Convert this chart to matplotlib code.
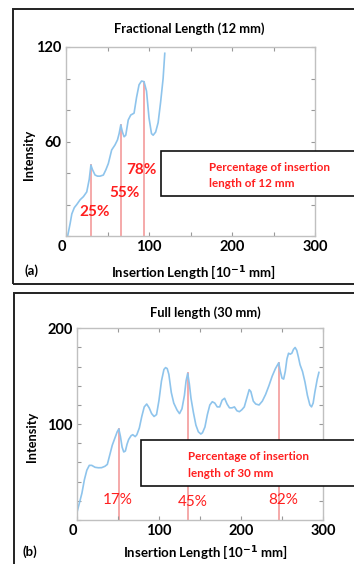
import matplotlib
matplotlib.use('Agg')
import matplotlib.pyplot as plt
from matplotlib.patches import Rectangle
import numpy as np

plt.rcParams['font.family'] = ['Lato', 'DejaVu Sans']

# (a) fractional insertion, 12 mm  (x in 10^-1 mm)
xa = [2, 5, 7, 10, 13, 17, 21, 25, 28, 30, 32, 35, 38, 41, 45, 48, 51, 55, 59, 62,
      64, 66, 68, 70, 72, 75, 78, 82, 85, 88, 91, 94, 97, 100, 103, 105, 108, 111,
      114, 117, 119]
ya = [0, 8, 14, 18, 20, 23, 25, 28, 36, 45, 42, 38.7, 38, 38, 38.7, 42, 46, 54.6,
      57.8, 61, 65, 70.5, 66, 63, 64, 73.7, 76.8, 78, 88, 96, 98.4, 98, 92, 75, 65,
      64, 66, 72, 85, 100, 116]
pct_a = [25, 55, 78]
len_a = 120

# (b) full insertion, 30 mm
xb = [0, 3, 6, 9, 12, 15, 18, 22, 26, 30, 34, 37, 40, 43, 46, 49, 51, 53, 55, 57,
      59, 61, 63, 66, 68, 71, 73, 76, 79, 82, 85, 88, 91, 94, 97, 100, 103, 106,
      108, 110, 112, 115, 118, 122, 125, 128, 131, 133, 135, 137, 139, 142, 145,
      148, 151, 153, 156, 159, 162, 165, 168, 171, 174, 177, 180, 183, 186, 189,
      192, 195, 198, 201, 204, 207, 210, 212, 215, 218, 222, 226, 230, 234, 238,
      242, 246, 248, 250, 252, 254, 256, 258, 260, 262, 264, 266, 268, 270, 272,
      275, 278, 281, 284, 286, 288, 290, 293, 295]
yb = [8, 18, 28, 42, 52, 57, 57, 55, 54.5, 54.6, 56, 58, 68, 78, 85, 92, 95, 87,
      76, 71, 72, 79, 84, 88, 89, 87, 89, 96, 108, 118, 121, 117, 111, 108, 110,
      125, 145, 157, 159, 158, 152, 133, 122, 114.7, 111, 116, 130, 145, 153, 142,
      127, 112, 99, 92, 89.7, 91, 97, 110, 120, 123.4, 122, 118, 118, 125, 127,
      121, 117, 117, 118, 114, 113, 115, 118, 127, 136, 134, 124, 121, 120, 124,
      131, 140, 150, 158, 164, 155, 148, 147, 155, 168, 174, 173, 174, 178, 180,
      177, 170, 162, 155, 144, 130, 120, 118, 122, 133, 147, 154]
pct_b = [17, 45, 82]
len_b = 300

xticks = [0, 50, 100, 150, 200, 250, 300]
xtick_labels = ['0', '', '100', '', '200', '', '300']

curve_c = '#8ec4ec'
mark_c = '#f4a3a3'
red = '#ff1f1f'

fig = plt.figure(figsize=(3.54, 5.64), dpi=100)

# panel frames
fig.add_artist(Rectangle((13/354, 1-284/564), 1.2, 275/564, transform=fig.transFigure,
                         fill=False, ec='#222222', lw=1.4))
fig.add_artist(Rectangle((14/354, -0.2), 1.2, 0.2+1-293/564, transform=fig.transFigure,
                         fill=False, ec='#222222', lw=1.4))


def panel(ax, x, y, pct, full, ymax, ylab, xlab, ylab_pos, title, tag, box, txt,
          lab_off, lab_w):
    ax.plot(x, y, color=curve_c, lw=1.2, solid_joinstyle='round', zorder=2)
    xs = [p/100*full for p in pct]
    hs = np.interp(xs, x, y)
    for xv, hv, p, (dx, ly) in zip(xs, hs, pct, lab_off):
        ax.plot([xv, xv], [0, hv], color=mark_c, lw=1.3, zorder=1)
        ax.text(xv+dx, ly, f'{p}%', color=red, fontsize=11, fontweight=lab_w,
                ha='center', va='center', zorder=4)
    ax.set_xlim(0, 300)
    ax.set_ylim(0, ymax)
    ax.set_xticks(xticks)
    ax.set_xticklabels(xtick_labels, fontweight='bold')
    ax.get_xticklabels()[0].set_ha('right')
    yt = list(range(0, ymax+1, 20))
    ax.set_yticks(yt)
    ax.set_yticklabels([str(v) if v in ylab else '' for v in yt], fontweight='bold')
    ax.tick_params(direction='in', length=3, width=0.8, color='#999999',
                   top=True, right=True, labelsize=10.5, pad=3)
    for s in ax.spines.values():
        s.set_color('#c0c0c0')
        s.set_linewidth(1.0)
    # annotation box
    bx, by, bh, tx, ty1, ty2 = box
    ax.add_patch(Rectangle((bx, by), 1.0, bh, transform=ax.transAxes, fc='white',
                           ec='#111111', lw=1.2, clip_on=False, zorder=3))
    for ty, line in zip((ty1, ty2), txt):
        ax.text(tx, ty, line, transform=ax.transAxes, color=red, fontsize=8.4,
                fontweight='bold', va='center', zorder=4)
    ax.text(title[1], title[2], title[0], transform=ax.transAxes, ha='center',
            va='center', fontsize=9.3, fontweight='bold')
    ax.text(xlab[0], xlab[1], 'Insertion Length [10$^{\\mathbf{-1}}$ mm]',
            transform=ax.transAxes, ha='center', va='center', fontsize=9.5,
            fontweight='bold')
    ax.text(tag[1], tag[2], tag[0], transform=ax.transAxes, ha='center',
            va='center', fontsize=9.5, fontweight='bold')
    ax.text(ylab_pos[0], ylab_pos[1], 'Intensity', transform=ax.transAxes,
            rotation=90, ha='center', va='center', fontsize=9.2, fontweight='bold')


ax1 = fig.add_axes([66/354, 1-236/564, 249/354, 189/564])
panel(ax1, xa, ya, pct_a, len_a, 120, [60, 120], (0.51, -0.19), (-0.15, 0.43),
      ('Fractional Length (12 mm)', 0.494, 1.095), ('(a)', -0.14, -0.185),
      (0.3815, 0.2116, 0.238, 0.574, 0.365, 0.28),
      ('Percentage of insertion', 'length of 12 mm'),
      [(5, 15.2), (4, 27.3), (-3.2, 41.9)], 'bold')

ax2 = fig.add_axes([77/354, 44/564, 246/354, 191.7/564])
panel(ax2, xb, yb, pct_b, len_b, 200, [100, 200], (0.52, -0.167), (-0.183, 0.433),
      ('Full length (30 mm)', 0.52, 1.08), ('(b)', -0.19, -0.167),
      (0.259, 0.177, 0.24, 0.451, 0.33, 0.245),
      ('Percentage of insertion', 'length of 30 mm'),
      [(-1, 20.9), (6, 19), (5, 20.9)], 'normal')

fig.savefig('out.png', dpi=100)
